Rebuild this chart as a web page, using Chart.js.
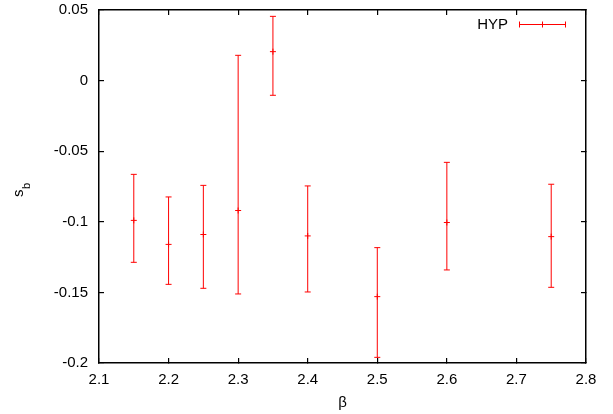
<!DOCTYPE html>
<html>
<head>
<meta charset="utf-8">
<script src="https://cdn.jsdelivr.net/npm/chart.js@4.4.0/dist/chart.umd.min.js"></script>
<style>
html, body { margin: 0; padding: 0; background: #fff; }
</style>
</head>
<body>
<canvas id="myChart" width="613" height="414"></canvas>
<script>
// data
const beta = [2.15, 2.2, 2.25, 2.3, 2.35, 2.4, 2.5, 2.6, 2.75];
const sb = [-0.099, -0.116, -0.109, -0.092, 0.0205, -0.110, -0.153, -0.1005, -0.1105];
const sbLow = [-0.1287, -0.1443, -0.1471, -0.1511, -0.0104, -0.1497, -0.196, -0.1341, -0.1464];
const sbHigh = [-0.0664, -0.0824, -0.0742, 0.0179, 0.0455, -0.0746, -0.1183, -0.0579, -0.0734];

const xTicks = [2.1, 2.2, 2.3, 2.4, 2.5, 2.6, 2.7, 2.8];
const xTickLabels = ['2.1', '2.2', '2.3', '2.4', '2.5', '2.6', '2.7', '2.8'];
const yTicks = [-0.2, -0.15, -0.1, -0.05, 0, 0.05];
const yTickLabels = ['-0.2', '-0.15', '-0.1', '-0.05', '0', '0.05'];

const RED = 'rgb(255, 0, 0)';
const FONT = "'Liberation Sans', Arial, sans-serif";

function labelFor(v, ticks, labels) {
    for (var i = 0; i < ticks.length; i++) {
        if (Math.abs(ticks[i] - v) < 1e-6) return labels[i];
    }
    return '';
}

function seg(ctx, x1, y1, x2, y2, color) {
    ctx.save();
    ctx.strokeStyle = color;
    ctx.lineWidth = 1;
    ctx.beginPath();
    ctx.moveTo(x1, y1);
    ctx.lineTo(x2, y2);
    ctx.stroke();
    ctx.restore();
}

// gnuplot style frame: black border on every side, short ticks pointing inwards
function frameGrid() {
    return { display: true, drawOnChartArea: false, drawTicks: true, tickLength: -5, color: '#000', lineWidth: 1.2 };
}
function frameBorder() {
    return { display: true, color: '#000', width: 1.5 };
}
function setXTicks(s) { s.ticks = xTicks.map(function (v) { return { value: v }; }); }
function setYTicks(s) { s.ticks = yTicks.map(function (v) { return { value: v }; }); }

const gnuplotLook = {
    id: 'gnuplotLook',
    afterDatasetsDraw(chart) {
        const ctx = chart.ctx;
        const xs = chart.scales.x;
        const ys = chart.scales.y;
        const cap = 3;
        for (var i = 0; i < beta.length; i++) {
            var px = xs.getPixelForValue(beta[i]);
            var lo = ys.getPixelForValue(sbLow[i]);
            var hi = ys.getPixelForValue(sbHigh[i]);
            seg(ctx, px, lo, px, hi, RED);
            seg(ctx, px - cap, lo, px + cap, lo, RED);
            seg(ctx, px - cap, hi, px + cap, hi, RED);
        }
    },
    afterDraw(chart) {
        const ctx = chart.ctx;

        // y title s_b, rotated
        ctx.save();
        ctx.fillStyle = '#000';
        ctx.translate(23, 197);
        ctx.rotate(-Math.PI / 2);
        ctx.textAlign = 'left';
        ctx.textBaseline = 'alphabetic';
        ctx.font = '15px ' + FONT;
        ctx.fillText('s', 0, 0);
        var w = ctx.measureText('s').width;
        ctx.font = '11px ' + FONT;
        ctx.fillText('b', w + 0.5, 7);
        ctx.restore();

        // legend
        var ly = 24.5;
        ctx.save();
        ctx.fillStyle = '#000';
        ctx.font = '15px ' + FONT;
        ctx.textAlign = 'right';
        ctx.textBaseline = 'middle';
        ctx.fillText(chart.data.datasets[0].label, 508, ly);
        ctx.restore();
        seg(ctx, 519, ly, 566, ly, RED);
        seg(ctx, 519.5, ly - 3, 519.5, ly + 3, RED);
        seg(ctx, 565.5, ly - 3, 565.5, ly + 3, RED);
        seg(ctx, 542.5, ly - 3, 542.5, ly + 3, RED);
    }
};

const points = beta.map(function (b, i) { return { x: b, y: sb[i] }; });

const CHART = document.getElementById('myChart');
let wykres = new Chart(CHART, {
    type: 'scatter',
    data: {
        datasets: [
            {
                label: 'HYP',
                data: points,
                borderColor: RED,
                backgroundColor: RED,
                pointStyle: 'cross',
                pointRadius: 3,
                pointBorderWidth: 1,
                showLine: false
            }
        ]
    },
    options: {
        responsive: false,
        animation: false,
        layout: {
            padding: { top: 10, right: 27, left: 0, bottom: 0 }
        },
        plugins: {
            legend: { display: false },
            tooltip: { enabled: false }
        },
        scales: {
            x: {
                type: 'linear',
                position: 'bottom',
                min: 2.1,
                max: 2.8,
                afterBuildTicks: setXTicks,
                afterFit: function (s) { s.height = 51; },
                grid: frameGrid(),
                border: frameBorder(),
                ticks: {
                    color: '#000',
                    padding: 13,
                    maxRotation: 0,
                    font: { size: 15, family: FONT },
                    callback: function (v) { return labelFor(v, xTicks, xTickLabels); }
                },
                title: {
                    display: true,
                    text: 'β',
                    color: '#000',
                    padding: { top: 0, bottom: 2 },
                    font: { size: 15, family: FONT }
                }
            },
            x2: {
                type: 'linear',
                axis: 'x',
                position: 'top',
                display: true,
                min: 2.1,
                max: 2.8,
                afterBuildTicks: setXTicks,
                afterFit: function (s) { s.height = 0; s.paddingLeft = 0; s.paddingRight = 0; },
                grid: frameGrid(),
                border: frameBorder(),
                ticks: { display: false }
            },
            y: {
                type: 'linear',
                position: 'left',
                min: -0.2,
                max: 0.05,
                afterBuildTicks: setYTicks,
                afterFit: function (s) { s.width = 99; s.paddingTop = 9; s.paddingBottom = 9; },
                grid: frameGrid(),
                border: frameBorder(),
                ticks: {
                    color: '#000',
                    padding: 16,
                    font: { size: 15, family: FONT },
                    callback: function (v) { return labelFor(v, yTicks, yTickLabels); }
                }
            },
            y2: {
                type: 'linear',
                axis: 'y',
                position: 'right',
                display: true,
                min: -0.2,
                max: 0.05,
                afterBuildTicks: setYTicks,
                afterFit: function (s) { s.width = 0; s.paddingTop = 0; s.paddingBottom = 0; },
                grid: frameGrid(),
                border: frameBorder(),
                ticks: { display: false }
            }
        }
    },
    plugins: [gnuplotLook]
});
</script>
</body>
</html>
